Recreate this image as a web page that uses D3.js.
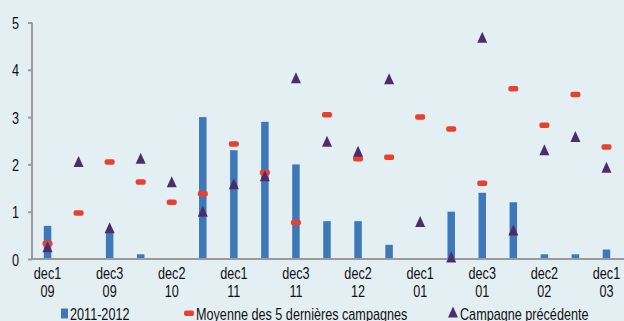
<!DOCTYPE html>
<html>
<head>
<meta charset="utf-8">
<script src="https://cdn.jsdelivr.net/npm/d3@7"></script>
<style>
  body { margin: 0; background: #e4eff4; }
  svg { display: block; font-family: "Liberation Sans", Arial, sans-serif; }
</style>
</head>
<body>
<div id="graph-holder"></div>
<script>
// categories (decade + month)
var categories = ["dec1 09", "dec2 09", "dec3 09", "dec1 10", "dec2 10", "dec3 10",
  "dec1 11", "dec2 11", "dec3 11", "dec1 12", "dec2 12", "dec3 12",
  "dec1 01", "dec2 01", "dec3 01", "dec1 02", "dec2 02", "dec3 02", "dec1 03"];

var current = [0.7, 0, 0.6, 0.1, 0, 3.0, 2.3, 2.9, 2.0, 0.8, 0.8, 0.3, 0, 1.0, 1.4, 1.2, 0.1, 0.1, 0.2];
var moyenne = [0.33, 0.97, 2.05, 1.63, 1.2, 1.38, 2.43, 1.83, 0.77, 3.05, 2.12, 2.15, 3.0, 2.75, 1.6, 3.6, 2.83, 3.48, 2.37];
var precedente = [0.25, 2.05, 0.65, 2.12, 1.62, 1.0, 1.58, 1.75, 3.82, 2.48, 2.27, 3.8, 0.78, 0.03, 4.68, 0.6, 2.3, 2.58, 1.93];

var yTicks = [0, 1, 2, 3, 4, 5];
var legendLabels = ["2011-2012", "Moyenne des 5 dernières campagnes", "Campagne précédente"];

var blue = "#3e78b9", red = "#e8412f", purple = "#4e2c6c", axisCol = "#9a9a9a";
var narrow = "scale(0.79,1)"; // condensed look of the original font

var W = 624, H = 321;
var margin = { top: 22.5, right: 2, bottom: 62, left: 32 };
var width = W - margin.left - margin.right,
  height = H - margin.top - margin.bottom;

var svg = d3.select("#graph-holder").append("svg")
  .attr("width", W).attr("height", H);

var g = svg.append("g")
  .attr("transform", "translate(" + margin.left + "," + margin.top + ")");

var x = d3.scaleBand().domain(categories).range([0, width]);
var y = d3.scaleLinear().domain([0, 5]).range([height, 0]);

// bars
g.selectAll(".bar")
  .data(current)
  .enter().append("rect")
  .attr("class", "bar")
  .attr("x", function(d, i) { return x(categories[i]) + x.bandwidth() / 2 - 3.75; })
  .attr("width", 7.5)
  .attr("y", function(d) { return y(d); })
  .attr("height", function(d) { return y(0) - y(d); })
  .attr("fill", blue);

// axes
var yAxis = g.append("g")
  .call(d3.axisLeft(y).tickValues(yTicks).tickSize(4).tickFormat(""));
yAxis.select(".domain").attr("stroke", axisCol).attr("stroke-width", 2).attr("d", "M0," + y(5) + "V" + y(0));
yAxis.selectAll(".tick line").attr("stroke", axisCol).attr("stroke-width", 2);
yAxis.selectAll(".tick").append("g").attr("transform", "translate(-13,6) " + narrow)
  .append("text").attr("fill", "#111").attr("font-size", 16).attr("text-anchor", "end")
  .text(function(d) { return d; });

var xAxis = g.append("g")
  .attr("transform", "translate(0," + height + ")")
  .call(d3.axisBottom(x).tickSize(0).tickFormat(""));
xAxis.select(".domain").attr("stroke", axisCol).attr("stroke-width", 2).attr("d", "M0,0H" + (width + 2));
xAxis.selectAll(".tick").filter(function(d, i) { return i % 2 === 1; }).remove();
xAxis.selectAll(".tick").each(function(d) {
  var parts = d.split(" ");
  var t = d3.select(this).append("g").attr("transform", narrow).append("text")
    .attr("fill", "#111").attr("font-size", 16).attr("text-anchor", "middle");
  t.append("tspan").attr("x", 0).attr("y", 20).text(parts[0]);
  t.append("tspan").attr("x", 0).attr("y", 38).text(parts[1]);
});

// moyenne dashes
g.selectAll(".dash")
  .data(moyenne)
  .enter().append("rect")
  .attr("x", function(d, i) { return x(categories[i]) + x.bandwidth() / 2 - 5; })
  .attr("y", function(d) { return y(d) - 2.75; })
  .attr("width", 10).attr("height", 5.5).attr("rx", 2)
  .attr("fill", red);

// triangles
var tri = "M0,-6L5,5L-5,5Z";
g.selectAll(".tri")
  .data(precedente)
  .enter().append("path")
  .attr("d", tri)
  .attr("transform", function(d, i) {
    return "translate(" + (x(categories[i]) + x.bandwidth() / 2) + "," + y(d) + ")";
  })
  .attr("fill", purple);

// legend (cut by the bottom edge, as in the original)
var lg = svg.append("g").attr("font-size", 16).attr("fill", "#111");
lg.append("rect").attr("x", 61).attr("y", 308.5).attr("width", 7).attr("height", 10).attr("fill", blue);
lg.append("rect").attr("x", 184).attr("y", 310.5).attr("width", 10).attr("height", 5.5).attr("rx", 2).attr("fill", red);
lg.append("path").attr("d", tri).attr("transform", "translate(453,312.5)").attr("fill", purple);
[[70, legendLabels[0]], [196, legendLabels[1]], [460, legendLabels[2]]].forEach(function(l) {
  lg.append("g").attr("transform", "translate(" + l[0] + ",319.5) " + narrow)
    .append("text").text(l[1]);
});
</script>
</body>
</html>
